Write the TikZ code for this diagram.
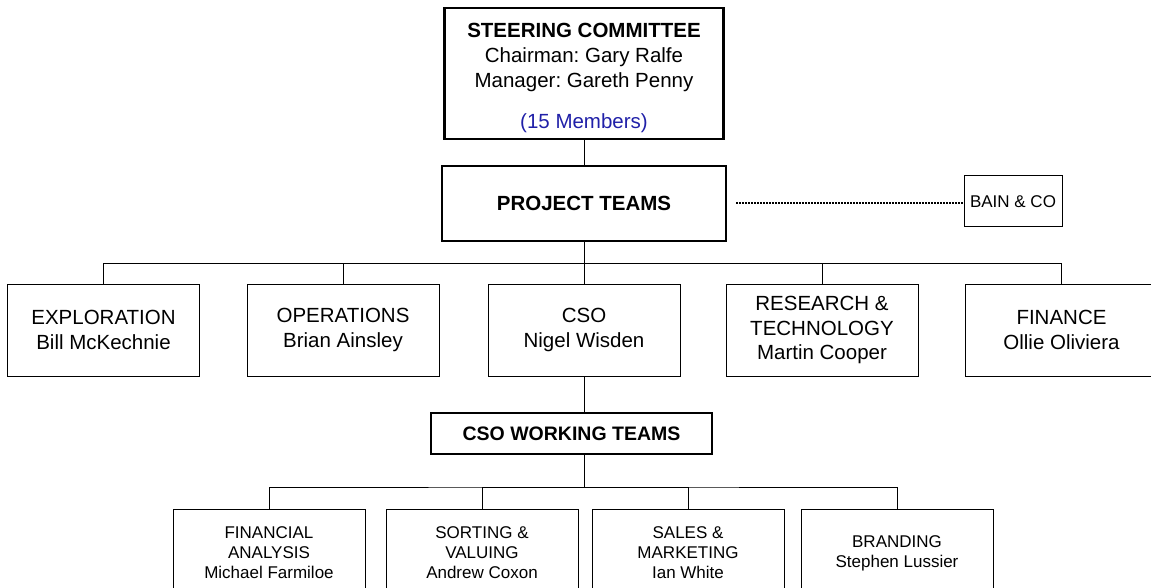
\documentclass[tikz,border=0pt]{standalone}
\usepackage{fontspec}
\setmainfont{Liberation Sans}
\frenchspacing
\definecolor{memblue}{RGB}{32,32,168}

\begin{document}
\begin{tikzpicture}[x=1pt,y=-1pt,
  headbox/.style={draw,line width=2.6pt,align=center,inner sep=0pt,font=\fontsize{20.5}{25}\selectfont},
  unitbox/.style={draw,line width=1pt,align=center,inner sep=0pt,minimum width=192pt,minimum height=92pt,font=\fontsize{20.5}{24.5}\selectfont},
  teambox/.style={unitbox,minimum height=88pt,font=\fontsize{17}{20}\selectfont},
  link/.style={line width=1pt}]
\useasboundingbox (0,0) rectangle (1151,588);
\clip (0,0) rectangle (1151,588);
\node[headbox,minimum width=279pt,minimum height=131pt] (steer) at (584,73.5)
  {\rule{0pt}{23pt}\textbf{STEERING COMMITTEE}\\Chairman: Gary Ralfe\\Manager: Gareth Penny\\[16pt]\textcolor{memblue}{(15 Members)}};
\node[headbox,minimum width=284pt,minimum height=75pt] (proj) at (584,203.5) {\textbf{PROJECT TEAMS}};
\node[unitbox,minimum width=98pt,minimum height=51pt,font=\fontsize{17}{20}\selectfont] (bain) at (1013,201.5) {BAIN \& CO};
\node[unitbox] (expl) at (103.5,330) {EXPLORATION\\Bill McKechnie};
\node[unitbox] (ops) at (343,330) {OPERATIONS\\Brian Ainsley};
\node[unitbox] (cso) at (584,330) {CSO\\Nigel Wisden};
\node[unitbox] (res) at (822,330) {RESEARCH \&\\TECHNOLOGY\\Martin Cooper};
\node[unitbox] (fin) at (1061.5,330) {FINANCE\\Ollie Oliviera};
\node[headbox,minimum width=281pt,minimum height=41pt,font=\fontsize{19.5}{24}\selectfont] (cwt) at (571.5,433.5) {\textbf{CSO WORKING TEAMS}};
\node[teambox] (fa) at (269,553) {FINANCIAL\\ANALYSIS\\Michael Farmiloe};
\node[teambox] (sv) at (482,553) {SORTING \&\\VALUING\\Andrew Coxon};
\node[teambox] (sm) at (688,553) {SALES \&\\MARKETING\\Ian White};
\node[teambox] (br) at (897,553) {BRANDING\\Stephen Lussier};
\coordinate (bus) at (584,263);
\coordinate (bus2) at (584,487);
\draw[link] (steer) -- (proj);
\draw[line width=2pt,dash pattern=on 2pt off 1pt,shorten <=9pt] (proj.east) -- (proj.east -| bain.west);
\draw[link] (proj) -- (cso);
\draw[link] (expl.north) |- (bus) -| (fin.north);
\draw[link] (ops.north) |- (bus);
\draw[link] (res.north) |- (bus);
\draw[link] (cso.south) -- (cso.south |- cwt.north);
\draw[link] (cso.south |- cwt.south) -- (bus2);
\draw[link] (fa.north) |- (bus2) -| (br.north);
\draw[link] (sv.north) |- (bus2);
\draw[link] (sm.north) |- (bus2);
\end{tikzpicture}
\end{document}
